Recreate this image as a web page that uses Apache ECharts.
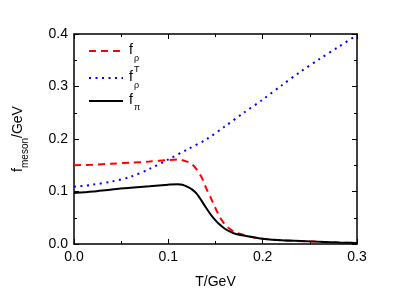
<!DOCTYPE html>
<html><head><meta charset="utf-8">
<script src="https://cdn.jsdelivr.net/npm/echarts@6/dist/echarts.min.js"></script>
<style>html,body{margin:0;padding:0;background:#fff}#c{width:415px;height:294px}</style>
</head><body><div id="c"></div>
<script>
var tRho = [0,0.02,0.04,0.06,0.08,0.10,0.11,0.12,0.125,0.13,0.135,0.14,0.145,0.15,0.155,0.16,0.165,0.17,0.18,0.19,0.20,0.22,0.25,0.28,0.30];
var fRho = [0.150,0.151,0.153,0.155,0.157,0.160,0.161,0.157,0.152,0.142,0.128,0.107,0.088,0.068,0.050,0.037,0.029,0.023,0.017,0.013,0.010,0.007,0.005,0.003,0.002];
var tRhoT = [0,0.02,0.04,0.06,0.08,0.10,0.12,0.14,0.16,0.18,0.20,0.22,0.24,0.26,0.28,0.30];
var fRhoT = [0.109,0.113,0.119,0.128,0.143,0.161,0.180,0.199,0.224,0.250,0.275,0.302,0.328,0.352,0.375,0.398];
var tPi = [0,0.02,0.04,0.06,0.08,0.10,0.11,0.115,0.12,0.125,0.13,0.135,0.14,0.145,0.15,0.155,0.16,0.165,0.17,0.18,0.19,0.20,0.22,0.25,0.28,0.30];
var fPi = [0.097,0.100,0.104,0.107,0.110,0.113,0.114,0.113,0.109,0.104,0.096,0.083,0.069,0.056,0.045,0.036,0.029,0.024,0.020,0.016,0.013,0.010,0.007,0.005,0.003,0.002];
var xTicks = [0, 0.1, 0.2, 0.3];
var yTicks = [0, 0.1, 0.2, 0.3, 0.4];

function pairs(t, v){ return t.map(function(x,i){ return [x, v[i]]; }); }
var FONT = 'Liberation Sans, Arial, sans-serif';
var axisCommon = {
  axisLine:{show:true,onZero:false,lineStyle:{color:'#000',width:1.5}},
  axisTick:{show:true,inside:true,length:5,lineStyle:{color:'#000',width:1}},
  minorTick:{show:true,splitNumber:2,length:3,lineStyle:{color:'#000',width:1}},
  splitLine:{show:false}
};
var chart = echarts.init(document.getElementById('c'));
chart.setOption({
  animation:false,
  backgroundColor:'#fff',
  grid:{left:74,top:34,width:283,height:210,containLabel:false},
  xAxis:[
    Object.assign({type:'value',min:0,max:0.3,interval:0.1,position:'bottom',
      name:'T/GeV',nameLocation:'middle',nameGap:31,
      nameTextStyle:{fontFamily:FONT,fontSize:14,color:'#000'},
      axisLabel:{fontFamily:FONT,fontSize:14,color:'#000',margin:6,
        formatter:function(v){return v.toFixed(1);}}}, axisCommon),
    Object.assign({type:'value',min:0,max:0.3,interval:0.1,position:'top',axisLabel:{show:false}}, axisCommon)
  ],
  yAxis:[
    Object.assign({type:'value',min:0,max:0.4,interval:0.1,position:'left',
      name:'{m|f}{s|meson}{m|/GeV}',nameLocation:'middle',nameGap:44,nameRotate:90,
      nameTextStyle:{fontFamily:FONT,fontSize:14,color:'#000',
        rich:{m:{fontFamily:FONT,fontSize:14,color:'#000',lineHeight:24,verticalAlign:'middle'},
              s:{fontFamily:FONT,fontSize:10,color:'#000',lineHeight:24,verticalAlign:'bottom'}}},
      axisLabel:{fontFamily:FONT,fontSize:14,color:'#000',margin:6,
        formatter:function(v){return v.toFixed(1);}}}, axisCommon),
    Object.assign({type:'value',min:0,max:0.4,interval:0.1,position:'right',axisLabel:{show:false}}, axisCommon)
  ],
  series:[
    {type:'line',name:'f_rho',data:pairs(tRho,fRho),smooth:0.3,showSymbol:false,
      lineStyle:{color:'#ff0000',width:2,type:[7,5]}},
    {type:'line',name:'f_rhoT',data:pairs(tRhoT,fRhoT),smooth:0.3,showSymbol:false,
      lineStyle:{color:'#0000ff',width:2,type:[2,4.5]}},
    {type:'line',name:'f_pi',data:pairs(tPi,fPi),smooth:0.3,showSymbol:false,
      lineStyle:{color:'#000',width:2}}
  ],
  graphic:[
    {type:'line',shape:{x1:89,y1:51,x2:123,y2:51},style:{stroke:'#ff0000',lineWidth:2,lineDash:[7,5]}},
    {type:'line',shape:{x1:89,y1:78,x2:123,y2:78},style:{stroke:'#0000ff',lineWidth:2,lineDash:[2,4.5]}},
    {type:'line',shape:{x1:89,y1:101,x2:123,y2:101},style:{stroke:'#000',lineWidth:2}},
    {type:'text',left:129,top:43,style:{text:'f',font:'14px '+FONT,fill:'#000'}},
    {type:'text',left:134,top:54,style:{text:'ρ',font:'9px '+FONT,fill:'#000'}},
    {type:'text',left:129,top:70,style:{text:'f',font:'14px '+FONT,fill:'#000'}},
    {type:'text',left:134,top:65,style:{text:'T',font:'9px '+FONT,fill:'#000'}},
    {type:'text',left:134,top:81,style:{text:'ρ',font:'9px '+FONT,fill:'#000'}},
    {type:'text',left:129,top:93,style:{text:'f',font:'14px '+FONT,fill:'#000'}},
    {type:'text',left:134,top:103,style:{text:'π',font:'9px '+FONT,fill:'#000'}}
  ]
});
</script></body></html>
